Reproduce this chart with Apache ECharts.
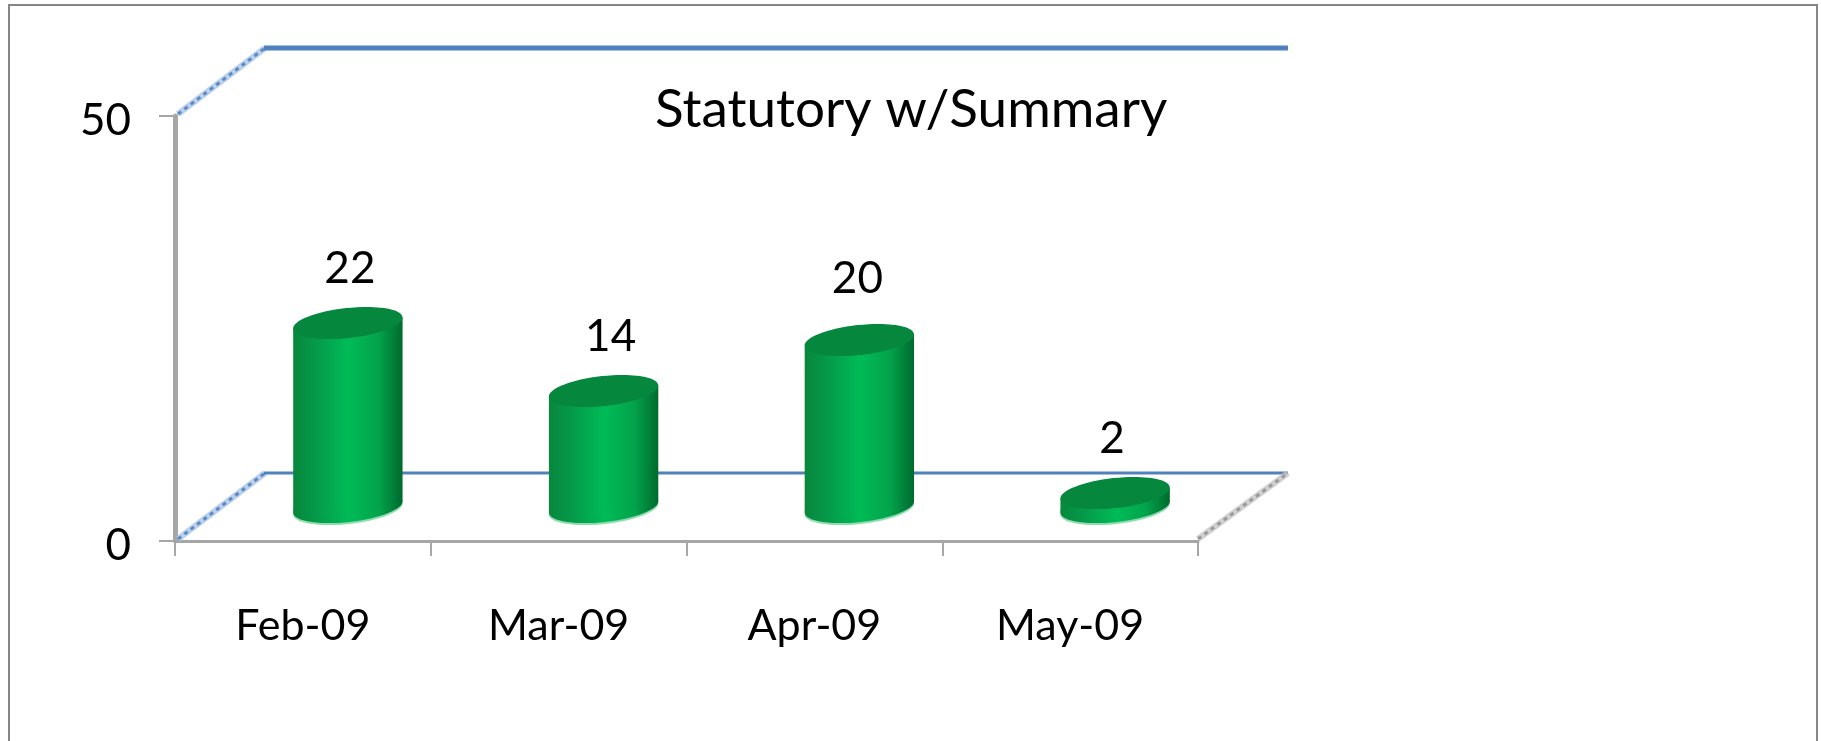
<!DOCTYPE html>
<html>
<head>
    <meta charset="utf-8">
    <title>Statutory w/Summary</title>
    <style>
        html, body { margin: 0; padding: 0; background: #fff; }
        #chart { width: 1821px; height: 741px; }
    </style>
</head>
<body>
<div id="chart"></div>
<script src="https://cdn.jsdelivr.net/npm/echarts@6/dist/echarts.min.js"></script>
<script>
    var months = ['Feb-09', 'Mar-09', 'Apr-09', 'May-09'];
    var counts = [22, 14, 20, 2];
    var yTicks = [0, 50];
    var chartTitle = 'Statutory w/Summary';

    // depth of the fake 3d box, in px
    var depthX = 90;
    var depthY = 68;
    var fontName = 'Lato';
    var tilt = 0.11;
    // the value labels were placed by hand in the original
    var labelShiftX = [2, 7, -2, -3];
    var labelShiftY = [-54, -54, -61, -54];

    var myChart = echarts.init(document.getElementById('chart'));

    function speckled(x1, y1, x2, y2, light, dark) {
        return [
            { type: 'line', shape: { x1: x1, y1: y1, x2: x2, y2: y2 }, style: { stroke: light, lineWidth: 6, opacity: 0.8 } },
            { type: 'line', shape: { x1: x1, y1: y1, x2: x2, y2: y2 }, style: { stroke: dark, lineWidth: 3, lineDash: [4, 4] } }
        ];
    }

    // walls: one entry per y tick
    function renderWall(params, api) {
        var v = api.value(0);
        var sys = params.coordSys;
        var y = api.coord([0, v])[1];
        var right = sys.x + sys.width;
        var children = speckled(sys.x + 3, y - 2, sys.x + depthX, y - depthY, '#a9c4e6', '#5b8ac6');
        children.push({
            type: 'line',
            shape: { x1: sys.x + depthX - 1, y1: y - depthY, x2: right + depthX, y2: y - depthY },
            style: { stroke: '#4f81bd', lineWidth: v === 0 ? 3 : 5 }
        });
        if (v === 0) {
            children = children.concat(speckled(right, y - 2, right + depthX, y - depthY, '#c4c4c4', '#9a9a9a'));
        }
        return { type: 'group', children: children };
    }

    function renderCylinder(params, api) {
        var idx = api.value(0);
        var val = api.value(1);
        var base = api.coord([idx, 0]);
        var top = api.coord([idx, val]);
        var cx = base[0] + depthX / 2;
        var yBot = base[1] - depthY / 2;
        var yTop = top[1] - depthY / 2 + 3;
        var rx = api.size([1, 0])[0] * 0.215;
        var ry = 15;
        var hw = Math.sqrt(rx * rx * Math.cos(tilt) * Math.cos(tilt) + ry * ry * Math.sin(tilt) * Math.sin(tilt));
        var dy = (rx * rx - ry * ry) * Math.sin(tilt) * Math.cos(tilt) / hw;
        var side = new echarts.graphic.LinearGradient(0, 0, 1, 0, [
            { offset: 0, color: '#07873c' },
            { offset: 0.2, color: '#05994a' },
            { offset: 0.5, color: '#00bb57' },
            { offset: 0.78, color: '#03a34b' },
            { offset: 1, color: '#006a2e' }
        ]);
        function disc(y, r, fill) {
            return { type: 'ellipse', x: cx, y: y, rotation: tilt, shape: { cx: 0, cy: 0, rx: rx, ry: r }, style: { fill: fill } };
        }
        return {
            type: 'group',
            children: [
                disc(yBot + 2, ry, '#8fdcae'),
                disc(yBot, ry, side),
                {
                    type: 'polygon',
                    shape: { points: [[cx - hw, yTop + dy], [cx + hw, yTop - dy], [cx + hw, yBot - dy], [cx - hw, yBot + dy]] },
                    style: { fill: side }
                },
                disc(yTop, ry, '#05883e'),
                {
                    type: 'text',
                    x: cx + labelShiftX[idx],
                    y: yTop + labelShiftY[idx],
                    style: { text: String(val), fill: '#000', font: '44px ' + fontName, align: 'center', verticalAlign: 'middle' }
                }
            ]
        };
    }

    var option = {
        animation: false,
        backgroundColor: '#fff',
        title: {
            text: chartTitle,
            left: 650,
            top: 78,
            textStyle: { fontFamily: fontName, fontSize: 53, fontWeight: 'normal', color: '#000' }
        },
        grid: { left: 175, right: 623, top: 116, bottom: 200 },
        xAxis: {
            type: 'category',
            data: months,
            axisLine: { lineStyle: { color: '#a6a6a6', width: 3 } },
            axisTick: { show: true, length: 15, lineStyle: { color: '#a6a6a6', width: 2 } },
            axisLabel: { fontFamily: fontName, fontSize: 43, color: '#000', margin: 64 }
        },
        yAxis: {
            type: 'value',
            min: yTicks[0],
            max: yTicks[1],
            interval: yTicks[1],
            splitLine: { show: false },
            axisLine: { show: true, lineStyle: { color: '#a6a6a6', width: 5 } },
            axisTick: { show: true, length: 16, lineStyle: { color: '#a6a6a6', width: 2 } },
            axisLabel: {
                margin: 44,
                formatter: '{n|{value}}',
                rich: { n: { fontFamily: fontName, fontSize: 44, color: '#000', padding: [10, 0, 0, 0] } }
            }
        },
        series: [
            {
                type: 'custom',
                renderItem: renderWall,
                encode: { y: 0 },
                data: yTicks.map(function (t) { return [t]; }),
                z: 1,
                silent: true
            },
            {
                type: 'custom',
                renderItem: renderCylinder,
                encode: { x: 0, y: 1 },
                data: months.map(function (m, i) { return [i, counts[i]]; }),
                z: 3,
                clip: false
            }
        ],
        graphic: [{
            type: 'rect',
            shape: { x: 9, y: 5, width: 1808, height: 780 },
            style: { fill: 'none', stroke: '#868686', lineWidth: 2 },
            silent: true
        }]
    };
    myChart.setOption(option);
</script>
</body>
</html>
